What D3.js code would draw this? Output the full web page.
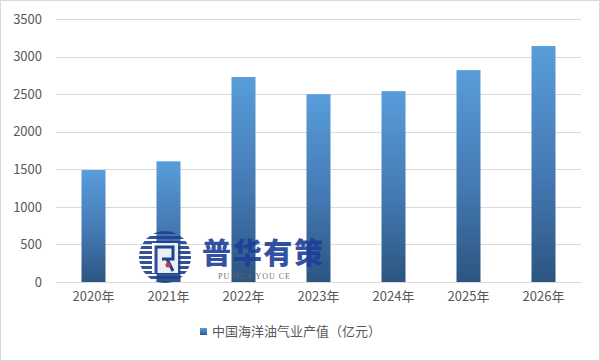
<!DOCTYPE html>
<html><head><meta charset="utf-8">
<script src="https://cdn.jsdelivr.net/npm/d3@7"></script>
<style>body{margin:0;background:#fff}svg{display:block}</style>
</head><body>
<script>
const categories = ["2020年","2021年","2022年","2023年","2024年","2025年","2026年"];
const values = [1490, 1606, 2728, 2500, 2540, 2820, 3140];
const yTicks = [0, 500, 1000, 1500, 2000, 2500, 3000, 3500];
const seriesName = "中国海洋油气业产值（亿元）";

const W = 600, H = 361;
const margin = {left: 56, right: 19, top: 19, bottom: 79};
const svg = d3.select("body").append("svg").attr("width", W).attr("height", H);
const font = "'Noto Sans CJK SC','Microsoft YaHei',sans-serif";

svg.append("rect").attr("x",0.5).attr("y",0.5).attr("width",W-1).attr("height",H-1)
  .attr("fill","#fff").attr("stroke","#d9d9d9");

const defs = svg.append("defs");
const grad = defs.append("linearGradient").attr("id","barGrad").attr("x1",0).attr("y1",0).attr("x2",0).attr("y2",1);
grad.append("stop").attr("offset","0%").attr("stop-color","#589dda");
grad.append("stop").attr("offset","55%").attr("stop-color","#4479b3");
grad.append("stop").attr("offset","100%").attr("stop-color","#2c5580");

const x = d3.scaleBand().domain(categories).range([margin.left, W - margin.right]).paddingInner(0.68).paddingOuter(0.34);
const y = d3.scaleLinear().domain([0, 3500]).range([H - margin.bottom, margin.top]);

// grid
svg.append("g").selectAll("line").data(yTicks).join("line")
  .attr("x1", margin.left).attr("x2", W - margin.right)
  .attr("y1", d => Math.round(y(d)) + 0.5).attr("y2", d => Math.round(y(d)) + 0.5)
  .attr("stroke", "#d9d9d9").attr("stroke-width", 1);

// y axis
const yAxis = svg.append("g").attr("transform", `translate(${margin.left - 14},0)`)
  .call(d3.axisLeft(y).tickValues(yTicks).tickSize(0).tickPadding(0).tickFormat(d3.format("d")));
yAxis.select(".domain").remove();
yAxis.selectAll("text").attr("font-family", font).attr("font-size", 13).attr("fill", "#595959");

// bars
svg.append("g").selectAll("rect").data(values).join("rect")
  .attr("x", (d,i) => x(categories[i]))
  .attr("width", x.bandwidth())
  .attr("y", d => y(d))
  .attr("height", d => y(0) - y(d))
  .attr("fill", "url(#barGrad)");

// x axis
const xAxis = svg.append("g").attr("transform", `translate(0,${y(0)})`)
  .call(d3.axisBottom(x).tickSize(0).tickPadding(10));
xAxis.select(".domain").attr("stroke", "#d9d9d9");
xAxis.selectAll("text").attr("font-family", font).attr("font-size", 13).attr("fill", "#595959");

// watermark
const wm = svg.append("g").attr("opacity", 0.9);
const cx = 165, cy = 257, r = 26;
const clip = defs.append("clipPath").attr("id","wmClip");
clip.append("circle").attr("cx",cx).attr("cy",cy).attr("r",r);
const stripes = wm.append("g").attr("clip-path","url(#wmClip)");
stripes.selectAll("rect").data(d3.range(0, 2*r, 5)).join("rect")
  .attr("x", cx - r).attr("y", d => cy - r + d).attr("width", 2*r).attr("height", 3)
  .attr("fill", "#1f3f8f");
wm.append("rect").attr("x", cx-13).attr("y", cy-14).attr("width", 26).attr("height", 30).attr("fill", "#fff");
wm.append("path").attr("d", `M${cx-9},${cy+16} V${cy-10} H${cx+8} V${cy+2} H${cx-3} M${cx+2},${cy+2} L${cx+8},${cy+14}`)
  .attr("fill","none").attr("stroke","#1f3f8f").attr("stroke-width",3);
wm.append("circle").attr("cx",cx+3).attr("cy",cy+8).attr("r",2.5).attr("fill","#d23a3a");
wm.append("text").attr("x", 202).attr("y", 264).attr("font-family", font).attr("font-weight", 900)
  .attr("font-size", 29).attr("fill", "#1d3f9a").attr("textLength", 121).text("普华有策");
wm.append("text").attr("x", 218).attr("y", 279).attr("font-family", "'Liberation Serif',serif")
  .attr("font-size", 8).attr("fill", "#666").attr("textLength", 72).text("PU HUA YOU CE");

// legend
const lg = svg.append("g");
lg.append("rect").attr("x", 200).attr("y", 328).attr("width", 7).attr("height", 7).attr("fill", "url(#barGrad)");
lg.append("text").attr("x", 212).attr("y", 336).attr("font-family", font).attr("font-size", 13)
  .attr("fill", "#595959").text(seriesName);
</script>
</body></html>
